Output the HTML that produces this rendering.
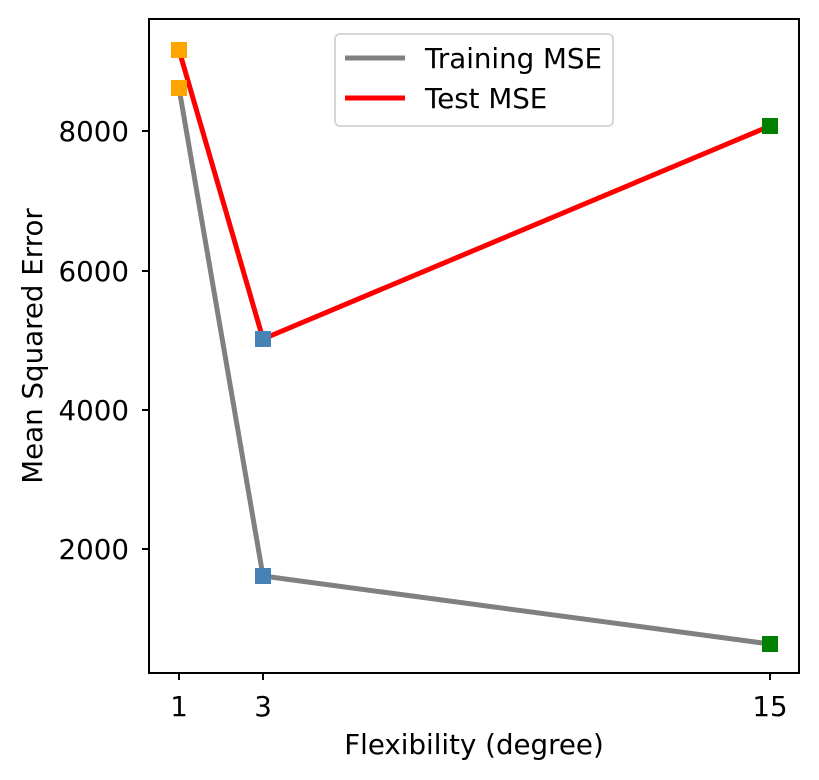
<!DOCTYPE html>
<html><head><meta charset="utf-8"><style>body{margin:0;background:#fff}svg{display:block}</style></head><body>
<svg width="819" height="780" xmlns="http://www.w3.org/2000/svg" font-family="DejaVu Sans, Liberation Sans, sans-serif">
<rect width="819" height="780" fill="#fff"/>
<g stroke="#000" stroke-width="2">
<line x1="179" y1="673" x2="179" y2="680"/><line x1="263" y1="673" x2="263" y2="680"/><line x1="770" y1="673" x2="770" y2="680"/>
<line x1="149" y1="131" x2="142" y2="131"/><line x1="149" y1="271" x2="142" y2="271"/><line x1="149" y1="410" x2="142" y2="410"/><line x1="149" y1="549" x2="142" y2="549"/>
</g>
<g font-size="27.7" fill="#000">
<text x="179" y="716" text-anchor="middle">1</text>
<text x="263" y="716" text-anchor="middle">3</text>
<text x="770" y="716" text-anchor="middle">15</text>
<text x="129" y="141" text-anchor="end">8000</text>
<text x="129" y="281" text-anchor="end">6000</text>
<text x="129" y="420" text-anchor="end">4000</text>
<text x="129" y="559" text-anchor="end">2000</text>
<text x="474" y="754" text-anchor="middle">Flexibility (degree)</text>
<text transform="translate(42,346) rotate(-90)" text-anchor="middle">Mean Squared Error</text>
</g>
<polyline points="179,88 263,576 770,644" fill="none" stroke="#808080" stroke-width="5"/>
<polyline points="179,50 263,339 770,126" fill="none" stroke="#ff0000" stroke-width="5"/>
<g>
<rect x="171" y="42" width="16" height="16" fill="#ffa500"/>
<rect x="171" y="80" width="16" height="16" fill="#ffa500"/>
<rect x="255" y="331" width="16" height="16" fill="#4682b4"/>
<rect x="255" y="568" width="16" height="16" fill="#4682b4"/>
<rect x="762" y="118" width="16" height="16" fill="#008000"/>
<rect x="762" y="636" width="16" height="16" fill="#008000"/>
</g>
<rect x="149" y="19" width="650" height="654" fill="none" stroke="#000" stroke-width="2"/>
<rect x="335" y="34" width="278" height="92" rx="5" fill="#fff" fill-opacity="0.8" stroke="#d6d6d6" stroke-width="2"/>
<line x1="345" y1="58" x2="405" y2="58" stroke="#808080" stroke-width="5"/>
<line x1="345" y1="98" x2="405" y2="98" stroke="#ff0000" stroke-width="5"/>
<text x="425" y="68" font-size="27.7">Training MSE</text>
<text x="425" y="108" font-size="27.7">Test MSE</text>
</svg>
</body></html>
